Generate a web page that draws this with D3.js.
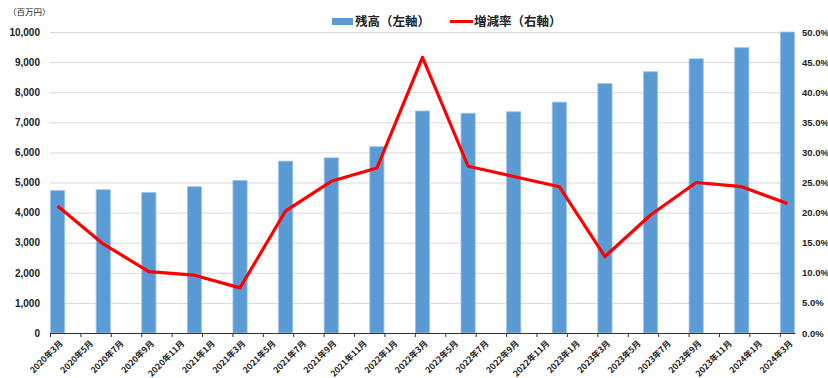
<!DOCTYPE html>
<html>
<head>
<meta charset="utf-8">
<script src="https://cdn.jsdelivr.net/npm/d3@7"></script>
<style>
  body { margin: 0; background: #fff; }
  svg { display: block; font-family: "Liberation Sans", Arial, "Noto Sans CJK JP", sans-serif; }
  .jp { font-family: "Noto Sans CJK JP", sans-serif; }
  .axis-l text, .axis-r text, .axis-b text { fill: #222; font-weight: bold; }
  .grid line { stroke: #d9d9d9; }
  .grid path, .axis-l path, .axis-r path { display: none; }
</style>
</head>
<body>
<div id="chart"></div>
<script>
// quarterly data points (残高 = balance, 増減率 = change rate)
const periods = ['2020年3月', '2020年6月', '2020年9月', '2020年12月', '2021年3月', '2021年6月', '2021年9月', '2021年12月',
  '2022年3月', '2022年6月', '2022年9月', '2022年12月', '2023年3月', '2023年6月', '2023年9月', '2023年12月', '2024年3月']
const balance = [4730, 4760, 4670, 4860, 5070, 5710, 5820, 6190, 7375, 7300, 7350, 7670, 8290, 8680, 9110, 9480, 10000]
const changeRate = [21.1, 14.8, 10.2, 9.6, 7.5, 20.3, 25.2, 27.4, 45.8, 27.7, 26.0, 24.3, 12.7, 19.6, 25.0, 24.3, 21.5]

// axis labels
const monthTicks = ['2020年3月', '2020年5月', '2020年7月', '2020年9月', '2020年11月', '2021年1月', '2021年3月', '2021年5月',
  '2021年7月', '2021年9月', '2021年11月', '2022年1月', '2022年3月', '2022年5月', '2022年7月', '2022年9月', '2022年11月',
  '2023年1月', '2023年3月', '2023年5月', '2023年7月', '2023年9月', '2023年11月', '2024年1月', '2024年3月']
const leftTicks = [0, 1000, 2000, 3000, 4000, 5000, 6000, 7000, 8000, 9000, 10000]
const rightTicks = [0, 5, 10, 15, 20, 25, 30, 35, 40, 45, 50]

const seriesNames = ['残高（左軸）', '増減率（右軸）']
const unitLabel = '（百万円）'

const chartWidth = 828
const chartHeight = 378
const margin = { top: 32, right: 33, bottom: 45, left: 50 }
const width = chartWidth - margin.left - margin.right
const height = chartHeight - margin.top - margin.bottom

// months since 2020年3月
function monthIndex(label) {
  const m = label.match(/(\d+)年(\d+)月/)
  return (+m[1] - 2020) * 12 + (+m[2] - 3)
}

const lastMonth = monthIndex(monthTicks[monthTicks.length - 1])

const x = d3.scaleLinear()
  .domain([0, lastMonth + 1])
  .range([0, width])

const yLeft = d3.scaleLinear()
  .domain([0, 10000])
  .range([height, 0])

const yRight = d3.scaleLinear()
  .domain([0, 50])
  .range([height, 0])

const svg = d3.select('#chart')
  .append('svg')
    .attr('width', chartWidth)
    .attr('height', chartHeight)

const g = svg.append('g')
  .attr('transform', `translate(${margin.left}, ${margin.top})`)

// gridlines
g.append('g')
  .attr('class', 'grid')
  .call(d3.axisLeft(yLeft).tickValues(leftTicks.slice(1)).tickSize(-width).tickFormat(''))

// bars
g.selectAll('rect.bar')
  .data(periods)
  .enter()
  .append('rect')
    .attr('class', 'bar')
    .attr('x', d => x(monthIndex(d)) + 0.5)
    .attr('y', (d, i) => yLeft(balance[i]))
    .attr('width', d => x(monthIndex(d) + 1) - x(monthIndex(d)) - 1)
    .attr('height', (d, i) => height - yLeft(balance[i]))
    .attr('fill', '#5b9bd5')
    .attr('stroke', '#9fc4ea')
    .attr('stroke-width', 0.8)

// change rate line
const line = d3.line()
  .x(d => x(monthIndex(d) + 0.5))
  .y((d, i) => yRight(changeRate[i]))

g.append('path')
  .attr('d', line(periods))
  .attr('fill', 'none')
  .attr('stroke', '#ff0000')
  .attr('stroke-width', 3.2)
  .attr('stroke-linejoin', 'round')

// left axis
g.append('g')
  .attr('class', 'axis-l')
  .call(d3.axisLeft(yLeft).tickValues(leftTicks).tickSize(0).tickPadding(10).tickFormat(d3.format(',')))
  .selectAll('text')
    .style('font-size', '10px')

// right axis (clipped at the page edge, as in the original)
g.append('g')
  .attr('class', 'axis-r')
  .attr('transform', `translate(${width}, 0)`)
  .call(d3.axisRight(yRight).tickValues(rightTicks).tickSize(0).tickPadding(7).tickFormat(d => d.toFixed(1) + '%'))
  .selectAll('text')
    .style('font-size', '9.5px')

// bottom axis
const bottom = g.append('g')
  .attr('class', 'axis-b')
  .attr('transform', `translate(0, ${height})`)
  .call(d3.axisBottom(x)
    .tickValues(monthTicks.map(monthIndex))
    .tickSize(4)
    .tickSizeOuter(0)
    .tickFormat((d, i) => monthTicks[i]))

bottom.select('.domain').attr('stroke', '#333').attr('stroke-width', 1.2)
bottom.selectAll('.tick line').attr('stroke', '#333')
bottom.selectAll('text')
  .attr('class', 'jp')
  .style('font-size', '8.5px')
  .style('font-weight', 'bold')
  .attr('text-anchor', 'end')
  .attr('dx', 0)
  .attr('dy', 0)
  .attr('transform', 'translate(8, 6) rotate(-45)')

// unit label
svg.append('text')
  .attr('class', 'jp')
  .attr('x', 8)
  .attr('y', 15)
  .style('font-size', '8.5px')
  .attr('fill', '#222')
  .text(unitLabel)

// legend
const legend = svg.append('g')
  .attr('class', 'jp')
  .style('font-size', '12.5px')
  .style('font-weight', 'bold')

legend.append('rect')
  .attr('x', 332)
  .attr('y', 18)
  .attr('width', 21)
  .attr('height', 7)
  .attr('fill', '#5b9bd5')

legend.append('text')
  .attr('x', 355)
  .attr('y', 26)
  .attr('fill', '#222')
  .text(seriesNames[0])

legend.append('line')
  .attr('x1', 450)
  .attr('x2', 473)
  .attr('y1', 21.5)
  .attr('y2', 21.5)
  .attr('stroke', '#ff0000')
  .attr('stroke-width', 3)

legend.append('text')
  .attr('x', 474)
  .attr('y', 26)
  .attr('fill', '#222')
  .text(seriesNames[1])
</script>
</body>
</html>
